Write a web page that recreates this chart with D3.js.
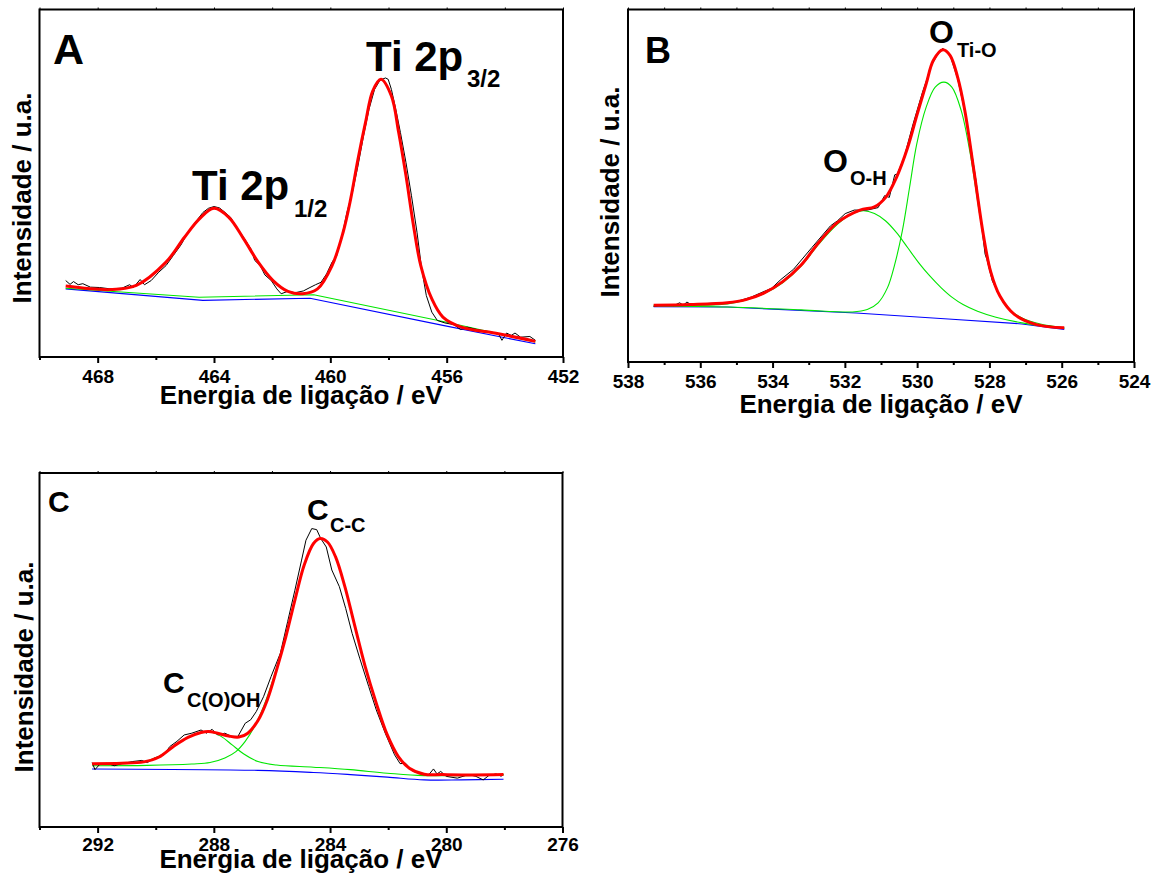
<!DOCTYPE html>
<html>
<head>
<meta charset="utf-8">
<script src="https://cdn.jsdelivr.net/npm/d3@7"></script>
<style>
  body { margin: 0; background: #fff; }
  svg text { font-family: "Liberation Sans", Arial, sans-serif; font-weight: bold; fill: #000; }
</style>
</head>
<body>
<div id="app"></div>
<script>
const d3 = window.d3;

// ---- A: Ti 2p  [binding energy (eV), intensity (a.u.)] ----
const tiRaw = [
  [469.10, 22.0], [468.95, 20.9], [468.83, 21.7], [468.67, 20.8], [468.51, 21.1], [468.25, 20.1],
  [467.94, 20.0], [467.56, 19.6], [467.17, 19.8], [466.90, 20.8], [466.77, 20.0], [466.54, 22.3],
  [466.39, 20.8], [466.16, 22.0], [465.90, 24.4], [465.65, 26.3], [465.40, 29.2], [465.14, 32.2],
  [464.89, 35.9], [464.63, 38.9], [464.38, 41.6], [464.19, 42.8], [464.00, 43.3], [463.81, 42.9],
  [463.62, 41.6], [463.43, 40.2], [463.24, 37.6], [462.98, 34.4], [462.73, 31.1], [462.60, 27.8],
  [462.41, 26.3], [462.25, 23.6], [462.03, 22.0], [461.84, 19.6], [461.69, 18.2], [461.46, 18.9],
  [461.21, 18.5], [460.93, 19.0], [460.70, 20.0], [460.51, 20.8], [460.32, 21.5], [460.13, 23.9],
  [459.94, 27.3], [459.78, 29.2], [459.62, 34.0], [459.43, 41.6], [459.24, 47.4], [459.05, 55.0],
  [458.86, 63.6], [458.67, 71.3], [458.48, 77.0], [458.29, 79.7], [458.10, 80.3], [458.01, 79.9],
  [457.90, 77.0], [457.75, 71.3], [457.59, 64.6], [457.40, 56.0], [457.21, 46.4], [457.02, 35.9],
  [456.86, 25.4], [456.70, 17.7], [456.51, 12.9], [456.32, 10.5], [456.06, 9.8], [455.75, 9.3],
  [455.52, 7.9], [455.30, 8.6], [454.86, 7.7], [454.48, 7.2], [454.22, 6.7], [454.10, 4.8],
  [453.94, 6.9], [453.78, 6.2], [453.65, 6.9], [453.46, 5.7], [453.14, 5.9], [452.95, 4.8]
];
const tiEnvelope = [
  [469.10, 20.4], [467.56, 19.4], [466.67, 20.6], [465.65, 27.3], [465.02, 34.4], [464.51, 39.7],
  [464.00, 42.8], [463.49, 40.2], [462.98, 34.0], [462.48, 27.3], [461.97, 22.0], [461.46, 18.9],
  [460.95, 18.2], [460.44, 19.6], [459.94, 26.3], [459.56, 35.9], [459.30, 45.5], [459.05, 56.9],
  [458.79, 67.5], [458.54, 76.6], [458.26, 79.9], [457.90, 75.1], [457.65, 64.6], [457.40, 52.2],
  [457.14, 37.8], [456.89, 26.3], [456.51, 16.7], [456.13, 11.5], [455.49, 8.6], [454.22, 6.7],
  [452.95, 4.5]
];
const tiComponent = [[469.10, 19.8], [464.51, 17.2], [460.57, 17.9], [456.00, 10.0], [452.95, 4.3]];
const tiBaseline = [[469.10, 19.6], [464.38, 16.3], [460.70, 16.9], [456.13, 9.1], [452.95, 3.8]];
const tiTicks = [468, 464, 460, 456, 452];
const tiMinorTicks = [470, 466, 462, 458, 454];

// ---- B: O 1s ----
const oRaw = [
  [537.29, 15.8], [536.98, 16.3], [536.73, 16.0], [536.57, 16.8], [536.47, 16.1], [536.37, 17.0],
  [536.22, 16.1], [536.07, 16.5], [535.56, 16.7], [535.05, 17.0], [534.59, 18.4], [534.33, 19.6],
  [534.03, 20.9], [533.77, 23.4], [533.42, 26.3], [532.91, 32.5], [532.40, 38.6], [532.20, 40.1],
  [531.99, 42.1], [531.74, 43.1], [531.38, 43.1], [531.08, 43.8], [530.90, 47.2], [530.77, 46.7],
  [530.62, 53.1], [530.55, 53.3], [530.36, 58.1], [530.11, 67.6], [529.85, 76.6], [529.60, 84.2],
  [529.45, 87.0], [529.36, 88.0], [529.29, 89.0], [529.22, 88.2], [529.09, 87.0], [528.88, 80.4],
  [528.63, 68.5], [528.37, 51.4], [528.12, 30.6], [528.07, 29.1], [527.92, 23.0], [527.66, 17.7],
  [527.31, 13.5], [527.02, 12.0], [526.70, 10.4], [526.29, 10.1], [525.93, 9.5]
];
const oEnvelope = [
  [537.29, 16.1], [536.27, 16.3], [535.25, 16.8], [534.74, 17.7], [534.23, 19.6], [533.72, 22.8],
  [533.21, 27.5], [532.70, 34.2], [532.20, 39.6], [531.58, 43.1], [531.18, 44.0], [530.87, 46.7],
  [530.57, 52.4], [530.26, 60.9], [530.01, 69.9], [529.75, 78.9], [529.55, 85.6], [529.29, 88.6],
  [529.09, 87.0], [528.88, 80.8], [528.68, 71.3], [528.43, 54.3], [528.17, 36.2], [527.97, 25.8],
  [527.71, 18.7], [527.31, 13.5], [526.70, 10.6], [525.93, 9.7]
];
const oHydroxyl = [
  [537.29, 16.1], [535.25, 16.5], [534.74, 17.6], [534.23, 19.4], [533.72, 22.5], [533.21, 27.2],
  [532.70, 33.7], [532.20, 39.1], [531.79, 42.1], [531.48, 42.9], [531.18, 42.1], [530.87, 40.0],
  [530.57, 36.7], [530.26, 32.4], [529.96, 28.2], [529.65, 24.4], [529.34, 21.1], [529.04, 18.4],
  [528.73, 16.3], [528.33, 14.4], [527.82, 12.7], [527.10, 11.1], [526.49, 10.2], [525.93, 9.7]
];
const oLattice = [
  [537.29, 15.9], [535.25, 15.6], [533.21, 14.8], [531.79, 14.2], [531.38, 14.9], [531.08, 16.8],
  [530.82, 21.1], [530.62, 27.7], [530.41, 37.2], [530.21, 49.5], [530.01, 61.9], [529.75, 72.3],
  [529.50, 78.0], [529.26, 79.4], [529.04, 78.0], [528.78, 71.3], [528.53, 59.0], [528.27, 41.9],
  [528.07, 30.6], [527.82, 21.1], [527.51, 15.4], [527.10, 12.5], [526.59, 10.8], [525.93, 9.7]
];
const oBaseline = [[537.29, 15.7], [535.25, 15.6], [531.69, 13.9], [529.14, 12.2], [527.10, 10.8], [525.93, 9.2]];
const oTicks = [538, 536, 534, 532, 530, 528, 526, 524];
const oMinorTicks = [537, 535, 533, 531, 529, 527, 525];

// ---- C: C 1s ----
const cRaw = [
  [292.19, 18.2], [292.09, 16.2], [291.94, 17.6], [291.68, 18.0], [291.43, 17.3], [291.17, 17.9],
  [290.79, 18.5], [290.48, 18.8], [290.29, 18.2], [290.03, 19.5], [289.71, 20.4], [289.52, 22.7],
  [289.27, 24.2], [289.02, 26.0], [288.76, 26.5], [288.44, 27.4], [288.25, 26.5], [288.06, 27.6],
  [287.87, 26.0], [287.62, 26.5], [287.39, 25.6], [287.17, 25.6], [286.92, 29.3], [286.73, 30.3],
  [286.54, 32.6], [286.29, 36.8], [286.03, 42.5], [285.71, 49.1], [285.46, 58.0], [285.21, 66.9],
  [284.98, 75.4], [284.83, 81.0], [284.63, 84.3], [284.46, 84.0], [284.32, 81.5], [284.13, 79.1],
  [283.94, 72.6], [283.68, 67.9], [283.46, 61.7], [283.24, 54.7], [282.98, 47.7], [282.67, 39.7],
  [282.41, 33.1], [282.10, 26.5], [281.78, 20.4], [281.59, 17.9], [281.40, 18.0], [281.14, 15.7],
  [280.89, 15.2], [280.63, 14.5], [280.44, 16.4], [280.32, 15.0], [280.19, 15.7], [280.00, 14.3],
  [279.62, 13.8], [279.24, 14.8], [278.98, 14.3], [278.73, 13.3], [278.54, 14.5], [278.29, 15.0],
  [278.10, 14.3]
];
const cEnvelope = [
  [292.19, 17.9], [291.17, 18.0], [290.41, 18.4], [289.90, 19.7], [289.40, 22.7], [288.89, 25.3],
  [288.44, 26.7], [288.19, 27.0], [287.87, 26.5], [287.49, 25.7], [287.14, 25.4], [286.83, 26.5],
  [286.48, 30.1], [286.16, 35.9], [285.84, 44.4], [285.52, 53.8], [285.21, 64.1], [284.89, 74.0],
  [284.57, 80.1], [284.34, 81.5], [284.09, 80.5], [283.81, 76.3], [283.49, 67.9], [283.17, 57.5],
  [282.79, 45.3], [282.41, 35.0], [282.03, 26.0], [281.65, 19.9], [281.27, 16.6], [280.76, 14.9],
  [280.13, 14.8], [279.11, 14.7], [278.03, 14.8]
];
const cCarboxyl = [
  [292.19, 17.9], [290.54, 18.2], [289.90, 19.9], [289.40, 22.7], [288.89, 25.3], [288.44, 26.7],
  [288.13, 26.9], [287.75, 25.6], [287.37, 23.2], [286.98, 20.7], [286.48, 18.5], [285.84, 17.5],
  [284.57, 16.9], [283.30, 16.2], [282.03, 15.2], [280.76, 14.5], [278.03, 14.8]
];
const cGraphitic = [
  [292.19, 17.3], [290.29, 17.4], [288.76, 17.8], [288.13, 18.2], [287.62, 19.5], [287.24, 21.3],
  [286.92, 24.2], [286.60, 28.4], [286.29, 34.0], [285.97, 41.5], [285.59, 51.9], [285.21, 64.1],
  [284.89, 74.0], [284.57, 80.1], [284.34, 81.5], [284.09, 80.5], [283.81, 76.3], [283.49, 67.9],
  [283.17, 57.5], [282.79, 45.3], [282.41, 35.0], [282.03, 26.0], [281.65, 19.9], [281.27, 16.6],
  [280.76, 14.9], [280.13, 14.8], [279.11, 14.7], [278.03, 14.8]
];
const cBaseline = [
  [292.19, 16.4], [286.48, 16.0], [284.57, 15.4], [283.30, 14.8], [282.03, 14.1], [280.76, 13.3],
  [279.49, 13.3], [278.03, 13.5]
];
const cTicks = [292, 288, 284, 280, 276];
const cMinorTicks = [294, 290, 286, 282, 278];

const yTitle = "Intensidade / u.a.";
const xTitle = "Energia de ligação / eV";

const width = 1158, height = 877;

const svg = d3.select("#app").append("svg")
  .attr("width", width)
  .attr("height", height);

const panels = [
  {
    box: { left: 39.5, right: 563, top: 9.5, bottom: 357 },
    domain: [470, 452], ticks: tiTicks, minor: tiMinorTicks, labelDy: 26,
    series: [
      { data: tiBaseline, color: "#0000ff", w: 1.1, curve: d3.curveLinear },
      { data: tiComponent, color: "#00e600", w: 1.1, curve: d3.curveLinear },
      { data: tiRaw, color: "#000", w: 1, curve: d3.curveLinear },
      { data: tiEnvelope, color: "#ff0000", w: 3, curve: d3.curveCatmullRom }
    ],
    letter: { text: "A", x: 53, y: 64, size: 43 },
    peaks: [
      { main: "Ti 2p", sub: "1/2", x: 192, y: 200, sx: 294, sy: 217, size: 42, subSize: 24 },
      { main: "Ti 2p", sub: "3/2", x: 366, y: 71, sx: 467, sy: 87, size: 42, subSize: 24 }
    ],
    yLabel: { x: 22, y: 198 },
    xLabel: { y: 404 }
  },
  {
    box: { left: 628, right: 1134, top: 9.5, bottom: 362 },
    domain: [538, 524], ticks: oTicks, minor: oMinorTicks, labelDy: 26,
    series: [
      { data: oBaseline, color: "#0000ff", w: 1.1, curve: d3.curveLinear },
      { data: oHydroxyl, color: "#00e600", w: 1.1, curve: d3.curveCatmullRom },
      { data: oLattice, color: "#00e600", w: 1.1, curve: d3.curveCatmullRom },
      { data: oRaw, color: "#000", w: 1, curve: d3.curveLinear },
      { data: oEnvelope, color: "#ff0000", w: 3, curve: d3.curveCatmullRom }
    ],
    letter: { text: "B", x: 645, y: 63, size: 36 },
    peaks: [
      { main: "O", sub: "O-H", x: 823, y: 172, sx: 850, sy: 185, size: 32, subSize: 20 },
      { main: "O", sub: "Ti-O", x: 929, y: 43, sx: 957, sy: 57, size: 32, subSize: 20 }
    ],
    yLabel: { x: 610, y: 192 },
    xLabel: { y: 413 }
  },
  {
    box: { left: 39.5, right: 562.5, top: 473, bottom: 827 },
    domain: [294, 276], ticks: cTicks, minor: cMinorTicks, labelDy: 24,
    series: [
      { data: cBaseline, color: "#0000ff", w: 1.1, curve: d3.curveCatmullRom },
      { data: cCarboxyl, color: "#00e600", w: 1.1, curve: d3.curveCatmullRom },
      { data: cGraphitic, color: "#00e600", w: 1.1, curve: d3.curveCatmullRom },
      { data: cRaw, color: "#000", w: 1, curve: d3.curveLinear },
      { data: cEnvelope, color: "#ff0000", w: 3, curve: d3.curveCatmullRom }
    ],
    letter: { text: "C", x: 48, y: 512, size: 30 },
    peaks: [
      { main: "C", sub: "C(O)OH", x: 163, y: 693, sx: 187, sy: 707, size: 30, subSize: 20 },
      { main: "C", sub: "C-C", x: 307, y: 520, sx: 330, sy: 532, size: 30, subSize: 20 }
    ],
    yLabel: { x: 24, y: 667 },
    xLabel: { y: 868 }
  }
];

panels.forEach(p => {
  const { box } = p;
  const x = d3.scaleLinear().domain(p.domain).range([box.left, box.right]);
  const y = d3.scaleLinear().domain([0, 100]).range([box.bottom, box.top]);

  const g = svg.append("g");

  // spectra
  p.series.forEach(s => {
    const line = d3.line()
      .x(d => x(d[0]))
      .y(d => y(d[1]))
      .curve(s.curve);
    g.append("path")
      .datum(s.data)
      .attr("fill", "none")
      .attr("stroke", s.color)
      .attr("stroke-width", s.w)
      .attr("stroke-linejoin", "round")
      .attr("d", line);
  });

  // bottom axis, major + minor
  const bottom = g.append("g")
    .attr("transform", `translate(0,${box.bottom})`)
    .call(d3.axisBottom(x).tickValues(p.ticks).tickSize(6).tickFormat(d3.format("d")));
  bottom.select(".domain").remove();
  bottom.selectAll("line").attr("stroke", "#000").attr("stroke-width", 2);
  bottom.selectAll("text")
    .attr("y", p.labelDy)
    .attr("dy", null)
    .attr("font-size", 19)
    .attr("font-family", null)
    .attr("fill", "#000");

  const minor = g.append("g")
    .attr("transform", `translate(0,${box.bottom})`)
    .call(d3.axisBottom(x).tickValues(p.minor).tickSize(3).tickFormat(""));
  minor.select(".domain").remove();
  minor.selectAll("line").attr("stroke", "#000").attr("stroke-width", 2);

  // small ticks on the top edge
  const top = g.append("g")
    .attr("transform", `translate(0,${box.top})`)
    .call(d3.axisTop(x).tickValues(p.ticks.concat(p.minor)).tickSize(2).tickFormat(""));
  top.select(".domain").remove();
  top.selectAll("line").attr("stroke", "#000").attr("stroke-width", 1);

  // frame
  g.append("rect")
    .attr("x", box.left)
    .attr("y", box.top)
    .attr("width", box.right - box.left)
    .attr("height", box.bottom - box.top)
    .attr("fill", "none")
    .attr("stroke", "#000")
    .attr("stroke-width", 2);

  // axis titles
  g.append("text")
    .attr("x", (box.left + box.right) / 2)
    .attr("y", p.xLabel.y)
    .attr("text-anchor", "middle")
    .attr("font-size", 26)
    .text(xTitle);

  g.append("text")
    .attr("transform", `translate(${p.yLabel.x},${p.yLabel.y}) rotate(-90)`)
    .attr("text-anchor", "middle")
    .attr("dominant-baseline", "central")
    .attr("font-size", 26)
    .text(yTitle);

  // panel letter
  g.append("text")
    .attr("x", p.letter.x)
    .attr("y", p.letter.y)
    .attr("font-size", p.letter.size)
    .text(p.letter.text);

  // peak labels with subscripts
  p.peaks.forEach(k => {
    g.append("text")
      .attr("x", k.x)
      .attr("y", k.y)
      .attr("font-size", k.size)
      .text(k.main);
    g.append("text")
      .attr("x", k.sx)
      .attr("y", k.sy)
      .attr("font-size", k.subSize)
      .text(k.sub);
  });
});
</script>
</body>
</html>
